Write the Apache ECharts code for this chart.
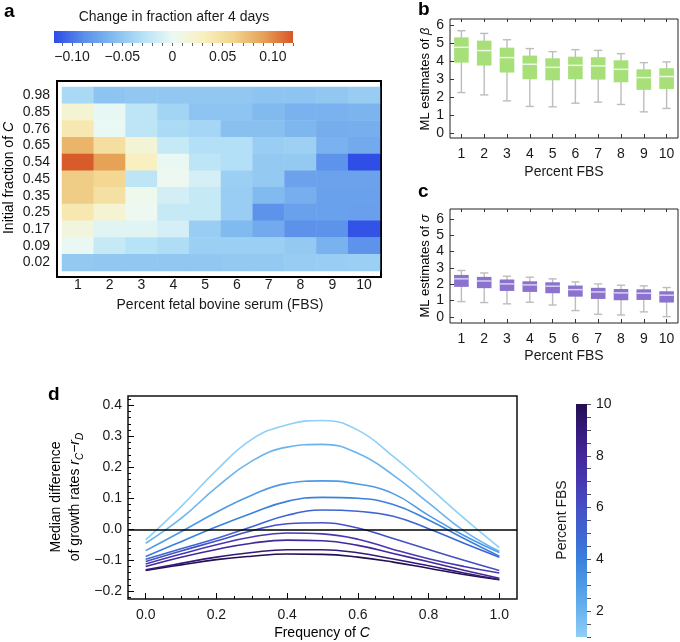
<!DOCTYPE html>
<html><head><meta charset="utf-8">
<script src="https://cdn.jsdelivr.net/npm/echarts@6/dist/echarts.min.js"></script>
<style>html,body{margin:0;padding:0;background:#fff}#c{width:680px;height:642px}</style>
</head><body><div id="c"></div>
<script>
const FONT = "'Liberation Sans', Arial, Helvetica, sans-serif";
const TXT = '#1a1a1a';

// ---------- panel a: heatmap ----------
const fbsCats = ['1','2','3','4','5','6','7','8','9','10'];
const heatRows = ['0.98','0.85','0.76','0.65','0.54','0.45','0.35','0.25','0.17','0.09','0.02']; // top -> bottom
const heat098 = [-0.036,-0.052,-0.050,-0.050,-0.050,-0.050,-0.052,-0.052,-0.050,-0.046];
const heat085 = [ 0.020,-0.002,-0.025,-0.040,-0.052,-0.052,-0.060,-0.065,-0.065,-0.063];
const heat076 = [ 0.040, 0.000,-0.025,-0.035,-0.038,-0.055,-0.055,-0.062,-0.068,-0.067];
const heat065 = [ 0.080, 0.050, 0.018,-0.020,-0.030,-0.030,-0.045,-0.043,-0.065,-0.070];
const heat054 = [ 0.118, 0.090, 0.030, 0.000,-0.025,-0.030,-0.048,-0.048,-0.085,-0.117];
const heat045 = [ 0.065, 0.058,-0.025, 0.003,-0.012,-0.044,-0.048,-0.075,-0.075,-0.075];
const heat035 = [ 0.065, 0.048, 0.005,-0.013,-0.020,-0.045,-0.060,-0.067,-0.076,-0.076];
const heat025 = [ 0.040, 0.020, 0.003,-0.020,-0.020,-0.045,-0.085,-0.076,-0.076,-0.077];
const heat017 = [ 0.013,-0.005,-0.005,-0.012,-0.045,-0.060,-0.070,-0.086,-0.085,-0.115];
const heat009 = [ 0.000,-0.020,-0.028,-0.033,-0.044,-0.044,-0.044,-0.048,-0.065,-0.085];
const heat002 = [-0.048,-0.050,-0.050,-0.050,-0.050,-0.048,-0.048,-0.046,-0.045,-0.044];
const heatTable = [heat098,heat085,heat076,heat065,heat054,heat045,heat035,heat025,heat017,heat009,heat002];
const heatRange = [-0.118, 0.12];
const heatColors = ['#2d4ce6','#5a8eea','#82bcef','#b6e2f7','#ecf9f3','#f8f0c0','#f2d58e','#e6a257','#d75629'];
const heatTickLabels = [-0.10,-0.05,0,0.05,0.10];
const heatMinorTicks = [-0.11,-0.10,-0.09,-0.08,-0.07,-0.06,-0.05,-0.04,-0.03,-0.02,-0.01,0,0.01,0.02,0.03,0.04,0.05,0.06,0.07,0.08,0.09,0.10,0.11,0.12];

// ---------- panel b: beta ----------
const betaLow  = [2.25,2.12,1.79,1.48,1.46,1.66,1.72,1.59,1.18,1.37];
const betaQ1   = [3.91,3.75,3.36,2.99,2.93,2.99,2.97,2.82,2.40,2.45];
const betaMed  = [4.76,4.58,4.19,3.82,3.65,3.76,3.73,3.54,3.08,3.14];
const betaQ3   = [5.31,5.13,4.74,4.30,4.15,4.24,4.21,4.04,3.54,3.60];
const betaHigh = [5.68,5.53,5.18,4.69,4.52,4.63,4.59,4.41,3.91,3.95];
// ---------- panel c: sigma ----------
const sigmaLow  = [0.94,0.88,0.80,0.90,0.73,0.39,0.16,0.12,0.31,0.02];
const sigmaQ1   = [1.84,1.76,1.59,1.53,1.45,1.24,1.10,1.02,1.04,0.88];
const sigmaMed  = [2.33,2.20,2.02,1.96,1.88,1.67,1.53,1.47,1.45,1.33];
const sigmaQ3   = [2.57,2.45,2.29,2.18,2.12,1.92,1.78,1.71,1.69,1.57];
const sigmaHigh = [2.84,2.69,2.49,2.43,2.33,2.14,2.02,1.94,1.90,1.80];
const estTicks = [0,1,2,3,4,5,6];

// ---------- panel d: growth-rate difference curves ----------
const freqX = [0,0.1,0.2,0.3,0.4,0.5,0.6,0.7,0.8,0.9,1.0];
const fbs1  = [-0.034, 0.073, 0.190, 0.290, 0.337, 0.351, 0.320, 0.235, 0.137, 0.036,-0.059];
const fbs2  = [-0.045, 0.035, 0.135, 0.220, 0.265, 0.274, 0.245, 0.175, 0.085,-0.005,-0.071];
const fbs3  = [-0.069,-0.008, 0.055, 0.110, 0.148, 0.156, 0.146, 0.115, 0.045,-0.020,-0.075];
const fbs4  = [-0.088,-0.040, 0.008, 0.052, 0.090, 0.103, 0.100, 0.080, 0.030,-0.030,-0.087];
const fbs5  = [-0.097,-0.063,-0.030, 0.008, 0.045, 0.062, 0.058, 0.042, 0.002,-0.045,-0.090];
const fbs6  = [-0.104,-0.070,-0.038,-0.005, 0.018, 0.021, 0.004,-0.030,-0.065,-0.100,-0.133];
const fbs7  = [-0.112,-0.080,-0.050,-0.025,-0.012,-0.015,-0.032,-0.065,-0.095,-0.120,-0.141];
const fbs8  = [-0.120,-0.090,-0.065,-0.045,-0.035,-0.037,-0.052,-0.078,-0.105,-0.132,-0.158];
const fbs9  = [-0.131,-0.110,-0.090,-0.075,-0.066,-0.066,-0.076,-0.096,-0.118,-0.141,-0.162];
const fbs10 = [-0.133,-0.115,-0.098,-0.087,-0.080,-0.081,-0.090,-0.106,-0.126,-0.146,-0.163];
const fbsCurves = [fbs1,fbs2,fbs3,fbs4,fbs5,fbs6,fbs7,fbs8,fbs9,fbs10];
const fbsColors = ['#8ecff7','#6ab4ee','#4f9ae6','#3b80dc','#3e66d2','#4550c4','#4838b0','#42289a','#341a78','#250e52'];
const freqTicks = [0,0.2,0.4,0.6,0.8,1.0];
const freqMinor = [0,0.05,0.1,0.15,0.2,0.25,0.3,0.35,0.4,0.45,0.5,0.55,0.6,0.65,0.7,0.75,0.8,0.85,0.9,0.95,1.0];
const diffTicks = [-0.2,-0.1,0,0.1,0.2,0.3,0.4];
const diffMinor = [-0.22,-0.2,-0.18,-0.16,-0.14,-0.12,-0.1,-0.08,-0.06,-0.04,-0.02,0,0.02,0.04,0.06,0.08,0.1,0.12,0.14,0.16,0.18,0.2,0.22,0.24,0.26,0.28,0.3,0.32,0.34,0.36,0.38,0.4,0.42];
const fbsRange = [1, 10];

// ---------- helpers ----------
const minus = s => s.replace('-', '\u2212');
const heatData = [];
heatTable.forEach((row, r) => row.forEach((v, c) => heatData.push([c, heatRows.length - 1 - r, v])));
const yHeatCats = heatRows.slice().reverse();

function boxData(lo, q1, md, q3, hi) { return fbsCats.map((c, i) => [i, lo[i], q1[i], md[i], q3[i], hi[i]]); }
function boxRender(fill, medColor) {
  return function (params, api) {
    const i = api.value(0);
    const lo = api.coord([i, api.value(1)]);
    const q1 = api.coord([i, api.value(2)]);
    const md = api.coord([i, api.value(3)]);
    const q3 = api.coord([i, api.value(4)]);
    const hi = api.coord([i, api.value(5)]);
    const band = api.size([1, 0])[0];
    const bw = band * 0.64, cw = band * 0.36, x = lo[0];
    const ws = { stroke: '#bdbdbd', lineWidth: 1.4 };
    return { type: 'group', children: [
      { type: 'line', shape: { x1: x, y1: hi[1], x2: x, y2: lo[1] }, style: ws },
      { type: 'line', shape: { x1: x - cw / 2, y1: hi[1], x2: x + cw / 2, y2: hi[1] }, style: ws },
      { type: 'line', shape: { x1: x - cw / 2, y1: lo[1], x2: x + cw / 2, y2: lo[1] }, style: ws },
      { type: 'rect', shape: { x: x - bw / 2, y: q3[1], width: bw, height: q1[1] - q3[1] }, style: { fill: fill } },
      { type: 'line', shape: { x1: x - bw / 2, y1: md[1], x2: x + bw / 2, y2: md[1] }, style: { stroke: medColor, lineWidth: 1.5 } }
    ]};
  };
}
function stops(cols) { return cols.map((c, i) => ({ offset: i / (cols.length - 1), color: c })); }

const lab = { fontFamily: FONT, fontSize: 14, color: TXT };
const noLine = { show: false, onZero: false };

const chart = echarts.init(document.getElementById('c'), null, { renderer: 'canvas' });
const option = {
  animation: false,
  backgroundColor: '#fff',
  textStyle: { fontFamily: FONT },
  grid: [
    { left: 62, top: 87, width: 318, height: 184 },                                        // 0 heat cells
    { left: 57, top: 81, width: 324, height: 196, show: true, borderColor: '#000', borderWidth: 2 }, // 1 heat frame
    { left: 54, top: 31, width: 239, height: 12 },                                         // 2 colorbar a
    { left: 450, top: 19, width: 228, height: 119, show: true, borderColor: '#222', borderWidth: 1 }, // 3 b
    { left: 450, top: 209, width: 228, height: 114, show: true, borderColor: '#222', borderWidth: 1 }, // 4 c
    { left: 128, top: 396, width: 389, height: 203, show: true, borderColor: '#111', borderWidth: 1.5 }, // 5 d
    { left: 576, top: 404, width: 11, height: 233 }                                        // 6 colorbar d
  ],
  xAxis: [
    { gridIndex: 0, type: 'category', data: fbsCats, axisLine: noLine, axisTick: { show: false }, axisLabel: Object.assign({ margin: 7, interval: 0 }, lab), splitLine: { show: false } },
    { gridIndex: 1, type: 'value', show: false, min: 0, max: 1, axisLine: noLine },
    { gridIndex: 2, type: 'value', min: heatRange[0], max: heatRange[1], axisLine: noLine, splitLine: { show: false },
      axisTick: { show: true, length: 3, customValues: heatMinorTicks, lineStyle: { color: '#666' } },
      axisLabel: Object.assign({ margin: 7, customValues: heatTickLabels, formatter: v => minus(v === 0 ? '0' : v.toFixed(2)) }, lab) },
    { gridIndex: 3, type: 'category', data: fbsCats, axisLine: noLine, splitLine: { show: false },
      axisTick: { show: true, inside: true, alignWithLabel: true, length: 4, lineStyle: { color: '#333' } },
      axisLabel: Object.assign({ margin: 9, interval: 0 }, lab) },
    { gridIndex: 3, type: 'category', data: fbsCats, position: 'top', axisLine: noLine, splitLine: { show: false }, axisLabel: { show: false },
      axisTick: { show: true, inside: true, alignWithLabel: true, length: 3, lineStyle: { color: '#333' } } },
    { gridIndex: 4, type: 'category', data: fbsCats, axisLine: noLine, splitLine: { show: false },
      axisTick: { show: true, inside: true, alignWithLabel: true, length: 4, lineStyle: { color: '#333' } },
      axisLabel: Object.assign({ margin: 9, interval: 0 }, lab) },
    { gridIndex: 4, type: 'category', data: fbsCats, position: 'top', axisLine: noLine, splitLine: { show: false }, axisLabel: { show: false },
      axisTick: { show: true, inside: true, alignWithLabel: true, length: 3, lineStyle: { color: '#333' } } },
    { gridIndex: 5, type: 'value', min: -0.05, max: 1.05, position: 'bottom', axisLine: noLine, splitLine: { show: false },
      axisTick: { show: true, inside: true, length: 6, customValues: freqTicks, lineStyle: { color: '#000' } },
      axisLabel: Object.assign({ margin: 9, customValues: freqTicks, formatter: v => v.toFixed(1) }, lab) },
    { gridIndex: 5, type: 'value', min: -0.05, max: 1.05, position: 'bottom', axisLine: noLine, splitLine: { show: false }, axisLabel: { show: false },
      axisTick: { show: true, inside: true, length: 3, customValues: freqMinor, lineStyle: { color: '#000' } } },
    { gridIndex: 6, type: 'category', data: ['bar'], show: false, axisLine: noLine }
  ],
  yAxis: [
    { gridIndex: 0, type: 'category', data: yHeatCats, axisLine: noLine, axisTick: { show: false }, axisLabel: Object.assign({ margin: 12, interval: 0 }, lab), splitLine: { show: false } },
    { gridIndex: 1, type: 'value', show: false, min: 0, max: 1, axisLine: noLine },
    { gridIndex: 2, type: 'category', data: ['bar'], show: false, axisLine: noLine },
    { gridIndex: 3, type: 'value', min: -0.27, max: 6.33, axisLine: noLine, splitLine: { show: false },
      axisTick: { show: true, inside: true, length: 4, customValues: estTicks, lineStyle: { color: '#333' } },
      axisLabel: Object.assign({ margin: 6, customValues: estTicks }, lab) },
    { gridIndex: 4, type: 'value', min: -0.37, max: 6.6, axisLine: noLine, splitLine: { show: false },
      axisTick: { show: true, inside: true, length: 4, customValues: estTicks, lineStyle: { color: '#333' } },
      axisLabel: Object.assign({ margin: 6, customValues: estTicks }, lab) },
    { gridIndex: 5, type: 'value', min: -0.225, max: 0.43, position: 'left', axisLine: noLine, splitLine: { show: false },
      axisTick: { show: true, inside: true, length: 6, customValues: diffTicks, lineStyle: { color: '#000' } },
      axisLabel: Object.assign({ margin: 6, customValues: diffTicks, formatter: v => minus(Math.abs(v) < 1e-9 ? '0.0' : v.toFixed(1)) }, lab) },
    { gridIndex: 5, type: 'value', min: -0.225, max: 0.43, position: 'left', axisLine: noLine, splitLine: { show: false }, axisLabel: { show: false },
      axisTick: { show: true, inside: true, length: 3, customValues: diffMinor, lineStyle: { color: '#000' } } },
    { gridIndex: 6, type: 'value', min: fbsRange[0], max: fbsRange[1], interval: 0.5, position: 'right', axisLine: noLine, splitLine: { show: false },
      axisTick: { show: true, inside: false, length: 4, lineStyle: { color: '#555' } },
      axisLabel: Object.assign({ margin: 9, formatter: v => (v % 2 === 0 ? String(v) : '') }, lab) }
  ],
  visualMap: [{
    type: 'continuous', show: false, seriesIndex: 0, dimension: 2,
    min: heatRange[0], max: heatRange[1], inRange: { color: heatColors }
  }],
  series: [
    { type: 'heatmap', xAxisIndex: 0, yAxisIndex: 0, data: heatData, itemStyle: { borderWidth: 0 }, emphasis: { disabled: true } },
    { type: 'custom', xAxisIndex: 2, yAxisIndex: 2, data: [[heatRange[0], heatRange[1], 0]], encode: { x: [0, 1], y: 2 },
      renderItem: (params, api) => {
        const p0 = api.coord([api.value(0), 0]);
        const p1 = api.coord([api.value(1), 0]);
        const h = api.size([0, 1])[1];
        return { type: 'rect', shape: { x: p0[0], y: p0[1] - h / 2, width: p1[0] - p0[0], height: h },
          style: { fill: { type: 'linear', x: 0, y: 0, x2: 1, y2: 0, colorStops: stops(heatColors) } } };
      } },
    { type: 'custom', xAxisIndex: 3, yAxisIndex: 3, data: boxData(betaLow, betaQ1, betaMed, betaQ3, betaHigh),
      encode: { x: 0, y: [1, 2, 3, 4, 5] }, renderItem: boxRender('#a7df79', '#eef8e2') },
    { type: 'custom', xAxisIndex: 5, yAxisIndex: 4, data: boxData(sigmaLow, sigmaQ1, sigmaMed, sigmaQ3, sigmaHigh),
      encode: { x: 0, y: [1, 2, 3, 4, 5] }, renderItem: boxRender('#8b72cf', '#d9d0f2') },
    { type: 'custom', xAxisIndex: 9, yAxisIndex: 7, data: [[0, fbsRange[0], fbsRange[1]]], encode: { x: 0, y: [1, 2] },
      renderItem: (params, api) => {
        const p0 = api.coord([0, api.value(1)]);
        const p1 = api.coord([0, api.value(2)]);
        const w = api.size([1, 0])[0];
        return { type: 'rect', shape: { x: p0[0] - w / 2, y: p1[1], width: w, height: p0[1] - p1[1] },
          style: { fill: { type: 'linear', x: 0, y: 1, x2: 0, y2: 0, colorStops: stops(fbsColors) } } };
      } }
  ].concat(fbsCurves.map((arr, k) => ({
    type: 'line', xAxisIndex: 7, yAxisIndex: 5, smooth: 0.45, showSymbol: false, symbol: 'none',
    data: freqX.map((x, i) => [x, arr[i]]),
    lineStyle: { width: 1.6, color: fbsColors[k] }, z: 3 + (10 - k),
    markLine: k === 0 ? { silent: true, symbol: 'none', label: { show: false }, lineStyle: { color: '#000', width: 1.5, type: 'solid' }, data: [{ yAxis: 0 }], z: 20 } : undefined
  }))),
  graphic: [
    { type: 'text', x: 4, y: 2, style: { text: 'a', font: 'bold 19px ' + FONT, fill: '#000' } },
    { type: 'text', x: 418, y: 0, style: { text: 'b', font: 'bold 19px ' + FONT, fill: '#000' } },
    { type: 'text', x: 418, y: 182, style: { text: 'c', font: 'bold 19px ' + FONT, fill: '#000' } },
    { type: 'text', x: 48, y: 385, style: { text: 'd', font: 'bold 19px ' + FONT, fill: '#000' } },
    { type: 'text', x: 174, y: 17, style: { text: 'Change in fraction after 4 days', font: '14px ' + FONT, fill: TXT, textAlign: 'center', textVerticalAlign: 'middle' } },
    { type: 'text', x: 220, y: 305, style: { text: 'Percent fetal bovine serum (FBS)', font: '14px ' + FONT, fill: TXT, textAlign: 'center', textVerticalAlign: 'middle' } },
    { type: 'text', x: 9, y: 178, rotation: Math.PI / 2, style: { text: '{n|Initial fraction of }{i|C}', textAlign: 'center', textVerticalAlign: 'middle',
      rich: { n: { fontFamily: FONT, fontSize: 14, color: TXT }, i: { fontFamily: FONT, fontSize: 14, fontStyle: 'italic', color: TXT } } } },
    { type: 'text', x: 425, y: 79, rotation: Math.PI / 2, style: { text: '{n|ML estimates of }{i|\u03B2}', textAlign: 'center', textVerticalAlign: 'middle',
      rich: { n: { fontFamily: FONT, fontSize: 13, color: TXT }, i: { fontFamily: FONT, fontSize: 13, fontStyle: 'italic', color: TXT } } } },
    { type: 'text', x: 564, y: 172, style: { text: 'Percent FBS', font: '14px ' + FONT, fill: TXT, textAlign: 'center', textVerticalAlign: 'middle' } },
    { type: 'text', x: 425, y: 266, rotation: Math.PI / 2, style: { text: '{n|ML estimates of }{i|\u03C3}', textAlign: 'center', textVerticalAlign: 'middle',
      rich: { n: { fontFamily: FONT, fontSize: 13, color: TXT }, i: { fontFamily: FONT, fontSize: 13, fontStyle: 'italic', color: TXT } } } },
    { type: 'text', x: 564, y: 356, style: { text: 'Percent FBS', font: '14px ' + FONT, fill: TXT, textAlign: 'center', textVerticalAlign: 'middle' } },
    { type: 'text', x: 66, y: 497, rotation: Math.PI / 2, style: {
      text: '{n|Median difference}\n{n|of growth rates }{i|r}{s|C}{n|\u2212}{i|r}{s|D}', textAlign: 'center', textVerticalAlign: 'middle',
      rich: { n: { fontFamily: FONT, fontSize: 14, color: TXT, lineHeight: 19 }, i: { fontFamily: FONT, fontSize: 14, fontStyle: 'italic', color: TXT, lineHeight: 19 },
              s: { fontFamily: FONT, fontSize: 10, fontStyle: 'italic', color: TXT, verticalAlign: 'bottom', lineHeight: 19 } } } },
    { type: 'text', x: 322, y: 633, style: { text: '{n|Frequency of }{i|C}', textAlign: 'center', textVerticalAlign: 'middle',
      rich: { n: { fontFamily: FONT, fontSize: 14, color: TXT }, i: { fontFamily: FONT, fontSize: 14, fontStyle: 'italic', color: TXT } } } },
    { type: 'text', x: 562, y: 520, rotation: Math.PI / 2, style: { text: 'Percent FBS', font: '14px ' + FONT, fill: TXT, textAlign: 'center', textVerticalAlign: 'middle' } }
  ]
};
chart.setOption(option);
</script></body></html>
